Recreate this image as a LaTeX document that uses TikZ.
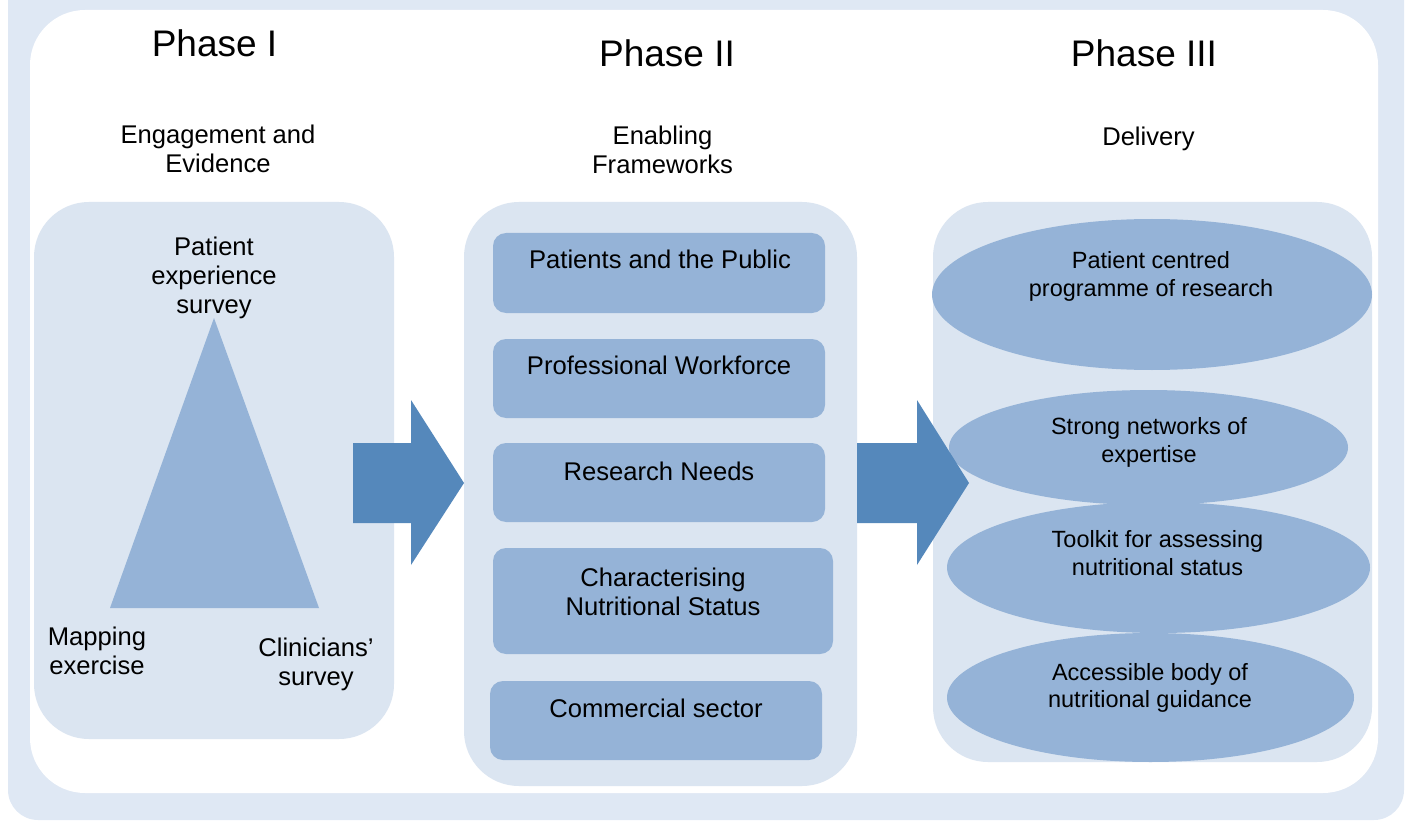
\documentclass[tikz,border=0pt]{standalone}
\usepackage{fontspec}
\setmainfont{Liberation Sans}
\usetikzlibrary{shapes.geometric}
\definecolor{outerbg}{HTML}{DFE8F4}
\definecolor{panelc}{HTML}{DBE5F1}
\definecolor{shapec}{HTML}{95B3D7}
\definecolor{arrowc}{HTML}{5588BB}
\begin{document}
\begin{tikzpicture}[x=1pt,y=-1pt,
  panelbox/.style={fill=panelc, draw=none, rounded corners=55pt, inner sep=0pt},
  itembox/.style={fill=shapec, draw=none, rounded corners=13pt, inner sep=0pt},
  oval/.style={ellipse, fill=shapec, draw=none, inner sep=0pt},
  bigarrow/.style={fill=arrowc, draw=none},
  phasetitle/.style={font=\fontsize{37}{44}\selectfont, anchor=base, inner sep=0pt},
  subtitle/.style={font=\fontsize{25.6}{29}\selectfont, align=center, inner sep=0pt},
  bodytext/.style={font=\fontsize{25.6}{29}\selectfont, align=center, inner sep=0pt},
  ovaltext/.style={font=\fontsize{23.5}{27.3}\selectfont, align=center, inner sep=0pt},
]
\useasboundingbox (0,0) rectangle (1408,821);
\begin{scope}
\clip (0,0) rectangle (1408,821);
\node[fill=outerbg, draw=none, rounded corners=30pt, inner sep=0pt,
      minimum width=1396, minimum height=860] (bg) at (706,390) {};
\end{scope}
\node[fill=white, draw=none, rounded corners=55pt, inner sep=0pt,
      minimum width=1348, minimum height=783] (frame) at (704,401.5) {};

% panels
\node[panelbox, minimum width=360, minimum height=537] (p1) at (214,470.5) {};
\node[panelbox, minimum width=393, minimum height=584] (p2) at (660.5,494) {};
\node[panelbox, minimum width=439, minimum height=560] (p3) at (1152.5,482) {};

% Phase I triangle
\fill[shapec] (214,318) -- (110,608) -- (319,608) -- cycle;

% Phase II boxes
\node[itembox, minimum width=332, minimum height=80]  (b1) at (659,273) {};
\node[itembox, minimum width=332, minimum height=79]  (b2) at (659,378.5) {};
\node[itembox, minimum width=332, minimum height=79]  (b3) at (659,482.5) {};
\node[itembox, minimum width=340, minimum height=106] (b4) at (663,601) {};
\node[itembox, minimum width=332, minimum height=79]  (b5) at (656,720.5) {};

% Phase III ellipses
\node[oval, minimum width=440, minimum height=151] (e1) at (1152,294.5) {};
\node[oval, minimum width=399, minimum height=115] (e2) at (1148.5,447.5) {};
\node[oval, minimum width=423, minimum height=131] (e3) at (1158.5,567.5) {};
\node[oval, minimum width=407, minimum height=129] (e4) at (1150.5,697.5) {};

% block arrows
\fill[bigarrow] (353,443) -- (411,443) -- (411,400) -- (464,483) -- (411,565) -- (411,523) -- (353,523) -- cycle;
\fill[bigarrow] (857,443) -- (917,443) -- (917,400) -- (969,483) -- (917,565) -- (917,523) -- (857,523) -- cycle;

% titles
\node[phasetitle] (h1) at (214.5,57) {Phase I};
\node[phasetitle] (h2) at (667,67) {Phase II};
\node[phasetitle] (h3) at (1144,67) {Phase III};
\node[subtitle] (s1) at (218,152.5) {\strut Engagement and\\\strut Evidence};
\node[subtitle] (s2) at (662.5,153.5) {\strut Enabling\\\strut Frameworks};
\node[subtitle, anchor=base] (s3) at (1148.5,146) {Delivery};

% Phase I labels
\node[bodytext] (l1) at (214,278.2) {\strut Patient\\\strut experience\\\strut survey};
\node[bodytext] (l2) at (97,653.7) {\strut Mapping\\\strut exercise};
\node[bodytext] (l3) at (316,664.7) {\strut Clinicians’\\\strut survey};

% Phase II labels
\node[bodytext, anchor=base] (tb1) at (660,269) {Patients and the Public};
\node[bodytext, anchor=base] (tb2) at (659,374) {Professional Workforce};
\node[bodytext, anchor=base] (tb3) at (659,480) {Research Needs};
\node[bodytext] (tb4) at (663,594.7) {\strut Characterising\\\strut Nutritional Status};
\node[bodytext, anchor=base] (tb5) at (656,717) {Commercial sector};

% Phase III labels
\node[ovaltext] (te1) at (1151,277) {\strut Patient centred\\\strut programme of research};
\node[ovaltext] (te2) at (1149,443) {\strut Strong networks of\\\strut expertise};
\node[ovaltext] (te3) at (1157.5,556) {\strut Toolkit for assessing\\\strut nutritional status};
\node[ovaltext] (te4) at (1150,688.5) {\strut Accessible body of\\\strut nutritional guidance};
\end{tikzpicture}
\end{document}
